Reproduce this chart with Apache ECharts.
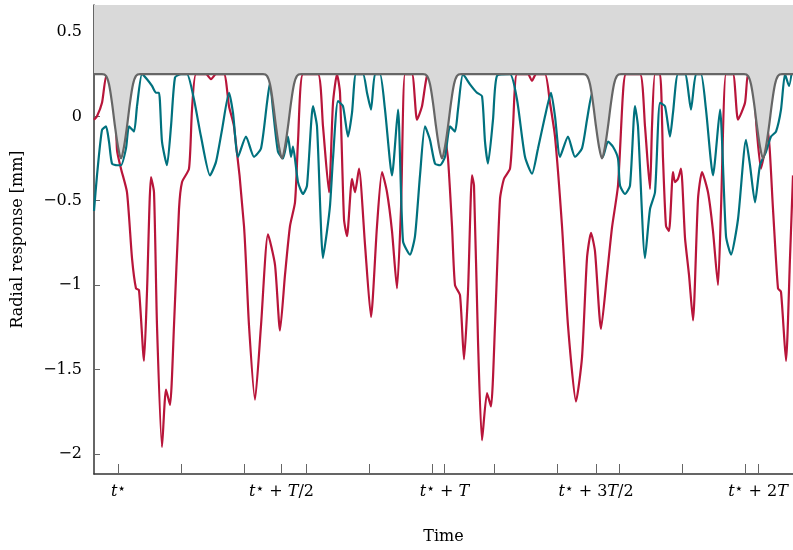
<!DOCTYPE html>
<html>
<head>
<meta charset="utf-8">
<script src="https://cdn.jsdelivr.net/npm/echarts@6/dist/echarts.min.js"></script>
<style>
    html, body { margin: 0; padding: 0; background: #fff; }
    #main { width: 793px; height: 550px; }
</style>
</head>
<body>
<div id="main"></div>
<script>
// time axis in arbitrary units, t* = 119
var tMin = 94, tMax = 793;
var yTicks = [0.5, 0, -0.5, -1, -1.5, -2];
var xLabelTicks = [118.5, 281.5, 444.5, 596, 758];
var xLabels = ['{i|t}{s|⋆}', '{i|t}{s|⋆}{n| + }{i|T}{n|/2}', '{i|t}{s|⋆}{n| + }{i|T}', '{i|t}{s|⋆}{n| + 3}{i|T}{n|/2}', '{i|t}{s|⋆}{n| + 2}{i|T}'];
var xMinorTicks = [118.5, 181, 244, 306, 369, 432, 494, 557, 619, 682, 745];

// gray bound: plateau level and dips
var boundLevel = 0.25;
var dipCenters = [121, 282, 442, 602, 763];
var dipOffsets = [-19, -15, -12, -9, -6, -3, 0, 3, 6, 9, 12, 15, 19];
var dipValues = [0.25, 0.24, 0.19, 0.08, -0.06, -0.18, -0.25, -0.18, -0.06, 0.08, 0.19, 0.24, 0.25];

var redX = [94, 97, 102, 107, 114, 117, 121, 127, 132, 136, 139, 144, 147, 151, 154, 157, 162, 166, 170, 174, 179, 182, 189, 192, 196, 206, 211, 216, 224, 229, 234, 244, 249, 255, 261, 268, 275, 280, 285, 290, 295, 298, 303, 318, 323, 329, 333, 337, 340, 344, 347, 352, 355, 359, 365, 371, 377, 382, 387, 392, 397, 401, 405, 412, 417, 422, 427, 432, 438, 442, 445, 448, 452, 455, 460, 464, 468, 472, 474, 478, 482, 487, 491, 495, 500, 504, 510, 513, 517, 528, 532, 536, 545, 550, 555, 562, 568, 576, 582, 587, 591, 595, 601, 607, 612, 618, 623, 626, 640, 645, 650, 652, 655, 660, 663, 666, 669, 673, 675, 678, 681, 685, 689, 693, 698, 702, 708, 713, 718, 721, 726, 733, 738, 745, 748, 752, 757, 761, 765, 768, 773, 778, 781, 786, 790, 793];
var redY = [-0.02, 0, 0.08, 0.25, 0.25, -0.2, -0.31, -0.45, -0.84, -1.02, -1.03, -1.45, -1.04, -0.36, -0.45, -1.24, -1.96, -1.62, -1.71, -1.24, -0.55, -0.39, -0.31, 0.04, 0.25, 0.25, 0.22, 0.25, 0.25, 0.06, -0.06, -0.65, -1.24, -1.68, -1.24, -0.7, -0.88, -1.27, -0.94, -0.65, -0.51, -0.15, 0.25, 0.25, -0.06, -0.45, 0.08, 0.25, 0.14, -0.61, -0.71, -0.37, -0.45, -0.31, -0.76, -1.19, -0.65, -0.33, -0.45, -0.68, -1.02, -0.55, 0.25, 0.25, -0.02, 0.06, 0.24, 0.25, 0.2, 0.0, -0.12, -0.25, -0.65, -1.0, -1.06, -1.44, -1.04, -0.35, -0.41, -1.33, -1.92, -1.64, -1.72, -1.24, -0.49, -0.37, -0.31, -0.06, 0.25, 0.25, 0.21, 0.25, 0.25, 0.08, -0.12, -0.65, -1.24, -1.69, -1.43, -0.84, -0.69, -0.8, -1.26, -0.94, -0.66, -0.41, 0.14, 0.25, 0.25, -0.06, -0.43, -0.06, 0.25, 0.25, -0.25, -0.65, -0.68, -0.33, -0.39, -0.37, -0.31, -0.72, -0.94, -1.21, -0.49, -0.33, -0.45, -0.68, -1.0, -0.55, 0.25, 0.25, -0.02, 0.08, 0.25, 0.25, -0.1, -0.31, -0.2, -0.09, -0.55, -1.02, -1.04, -1.45, -0.84, -0.35];

var tealX = [94, 97, 102, 106, 109, 112, 117, 121, 126, 129, 134, 137, 142, 147, 152, 156, 159, 162, 167, 171, 175, 181, 187, 194, 201, 210, 216, 222, 229, 233, 238, 246, 254, 261, 267, 270, 273, 278, 283, 288, 291, 293, 298, 303, 307, 313, 317, 323, 327, 330, 333, 338, 343, 348, 352, 356, 363, 367, 371, 375, 380, 385, 392, 398, 403, 410, 415, 420, 425, 430, 435, 440, 445, 450, 455, 458, 463, 470, 477, 482, 485, 488, 493, 497, 510, 517, 525, 532, 538, 545, 551, 555, 560, 568, 575, 582, 587, 592, 597, 603, 608, 613, 618, 620, 625, 630, 635, 638, 645, 650, 655, 660, 665, 670, 673, 678, 685, 691, 696, 701, 706, 713, 720, 726, 731, 738, 746, 750, 755, 760, 766, 771, 776, 781, 785, 789, 793];
var tealY = [-0.56, -0.35, -0.08, -0.06, -0.15, -0.28, -0.29, -0.29, -0.19, -0.06, -0.09, 0.06, 0.25, 0.22, 0.18, 0.14, 0.14, -0.15, -0.29, -0.06, 0.23, 0.25, 0.25, 0.1, -0.12, -0.35, -0.27, -0.08, 0.14, 0.02, -0.24, -0.12, -0.24, -0.19, 0.08, 0.2, 0.04, -0.21, -0.25, -0.12, -0.24, -0.18, -0.39, -0.46, -0.41, 0.06, -0.06, -0.84, -0.68, -0.53, -0.25, 0.09, 0.06, -0.12, 0.02, 0.25, 0.25, 0.14, 0.04, 0.25, 0.25, 0.04, -0.35, 0.04, -0.74, -0.82, -0.71, -0.35, -0.06, -0.14, -0.28, -0.29, -0.24, -0.06, -0.09, 0.04, 0.25, 0.19, 0.14, 0.12, -0.15, -0.28, -0.02, 0.24, 0.25, 0.1, -0.24, -0.34, -0.19, 0.0, 0.14, 0.0, -0.24, -0.12, -0.24, -0.19, -0.02, 0.14, -0.06, -0.24, -0.15, -0.18, -0.25, -0.41, -0.46, -0.41, 0.06, -0.06, -0.84, -0.55, -0.45, 0.08, 0.06, -0.12, 0.02, 0.25, 0.25, 0.04, 0.25, 0.25, 0.04, -0.35, 0.04, -0.71, -0.82, -0.61, -0.14, -0.29, -0.51, -0.29, -0.21, -0.12, -0.09, 0.04, 0.25, 0.18, 0.32];

function pairs(xs, ys) {
    var out = [];
    for (var i = 0; i < xs.length; i++) out.push([xs[i], ys[i]]);
    return out;
}

var boundData = [[tMin, boundLevel]];
for (var d = 0; d < dipCenters.length; d++) {
    for (var k = 0; k < dipOffsets.length; k++) {
        boundData.push([dipCenters[d] + dipOffsets[k], dipValues[k]]);
    }
}
boundData.push([tMax, boundLevel]);

var serif = 'DejaVu Serif';
var rich = {
    i: {fontFamily: serif, fontStyle: 'italic', fontSize: 16, color: '#000'},
    s: {fontFamily: 'DejaVu Sans', fontSize: 14, color: '#000', verticalAlign: 'top', padding: [0, 0, 6, 0]},
    n: {fontFamily: serif, fontSize: 16, color: '#000'}
};

var Chart = echarts.init(document.getElementById('main'));
var option = {
    animation: false,
    grid: {left: 94, right: 0, top: 5, bottom: 73},
    xAxis: {
        type: 'value', min: tMin, max: tMax,
        name: 'Time', nameLocation: 'middle', nameGap: 55,
        nameTextStyle: {fontFamily: serif, fontSize: 16, color: '#000'},
        axisLine: {onZero: false, lineStyle: {color: '#333', width: 1.5}},
        axisTick: {show: true, length: 10, inside: true, customValues: xMinorTicks.concat(xLabelTicks), lineStyle: {color: '#666'}},
        axisLabel: {
            customValues: xLabelTicks, margin: 8, rich: rich,
            formatter: function (v) { return xLabels[xLabelTicks.indexOf(v)]; }
        },
        splitLine: {show: false}
    },
    yAxis: {
        type: 'value', min: -2.12, max: 0.66,
        name: 'Radial response [mm]', nameLocation: 'middle', nameGap: 68,
        nameTextStyle: {fontFamily: serif, fontSize: 16, color: '#000'},
        axisLine: {show: true, lineStyle: {color: '#333', width: 1.5}},
        axisTick: {show: true, length: 6, inside: true, customValues: yTicks, lineStyle: {color: '#666'}},
        axisLabel: {
            customValues: yTicks, margin: 12, fontFamily: serif, fontSize: 16, color: '#000',
            formatter: function (v) { return String(v).replace('-', '−'); }
        },
        splitLine: {show: false}
    },
    series: [
        {
            name: 'bound', type: 'line', data: boundData, symbol: 'none', smooth: 0.3, z: 5,
            lineStyle: {color: '#666', width: 2.2},
            areaStyle: {color: '#d9d9d9', origin: 'end', opacity: 1}
        },
        {
            name: 'red', type: 'line', data: pairs(redX, redY), symbol: 'none', smooth: 0.2, z: 3,
            lineStyle: {color: '#b8153a', width: 2.2}
        },
        {
            name: 'teal', type: 'line', data: pairs(tealX, tealY), symbol: 'none', smooth: 0.2, z: 4,
            lineStyle: {color: '#00717e', width: 2.2}
        }
    ]
};
Chart.setOption(option);
</script>
</body>
</html>
